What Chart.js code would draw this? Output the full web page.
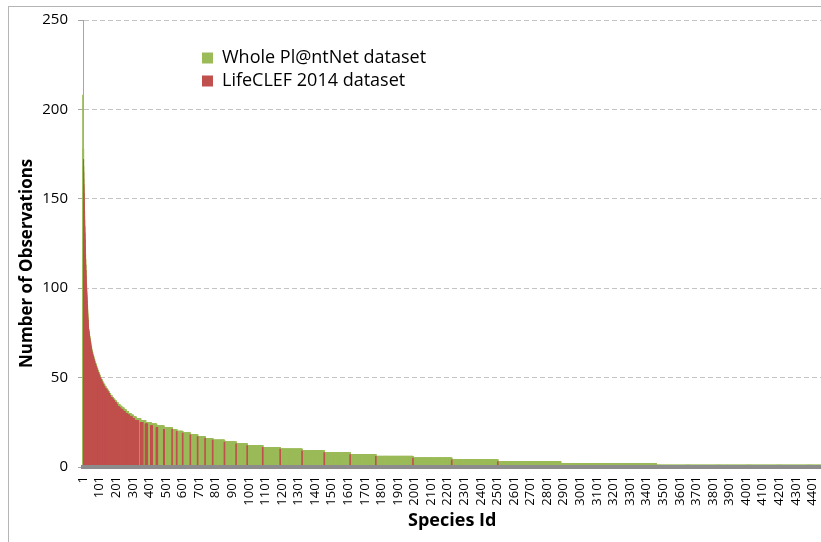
<!DOCTYPE html>
<html>
<head>
<meta charset="utf-8">
<script src="https://cdn.jsdelivr.net/npm/chart.js@4.4.1/dist/chart.umd.min.js"></script>
<style>
html, body { margin: 0; padding: 0; background: #ffffff; overflow: hidden; width: 821px; height: 542px; }
#frame { position: absolute; left: 8px; top: 6px; width: 900px; height: 600px; border-left: 1px solid #b5b5b5; border-top: 1px solid #b5b5b5; }
#c { position: absolute; left: 0; top: 0; }
</style>
</head>
<body>
<div id="frame"></div>
<canvas id="c" width="837" height="542"></canvas>
<script>
// ---- Data ----
const seriesNames = ['Whole Pl@ntNet dataset', 'LifeCLEF 2014 dataset'];
const xTickLabels = ['1','101','201','301','401','501','601','701','801','901','1001','1101','1201','1301','1401','1501','1601','1701','1801','1901','2001','2101','2201','2301','2401','2501','2601','2701','2801','2901','3001','3101','3201','3301','3401','3501','3601','3701','3801','3901','4001','4101','4201','4301','4401'];
const yTickValues = [0, 50, 100, 150, 200, 250];

// Most observed species, one value each (species 1..30)
const wholeHead    = [208,178,168,161,156,151,147,143,138,134,130,126,122,119,116,113,110,107,104,102,100,98,96,94,92,90,88,86,84,82];
const lifeclefHead = [172,172,165,158,153,148,144,140,135,131,127,123,119,116,113,110,107,104,101,99,97,95,93,91,89,87,85,83,82,80];

// Remaining species grouped by observation count (level) : how many species share it
const levels = [79,78,77,76,75,74,73,72,71,70,69,68,67,66,65,64,63,62,61,60,59,58,57,56,55,54,53,52,51,50,49,48,47,46,45,44,43,42,41,40,39,38,37,36,35,34,33,32,31,30,29,28,27,26,25,24,23,22,21,20,19,18,17,16,15,14,13,12,11,10,9,8,7,6,5,4,3,2,1];
const wholeSpeciesPerLevel = [1,1,2,1,2,1,2,1,2,2,1,2,2,2,2, 3,3,3,3,3,3,4,3,4,4, 4,4,4,4,5,5,5, 6,6,7,7,7,7, 7,8,8,9,9, 11,11,12,13,13, 14,15,15,16, 28,30,32,34,44,50, 28,36,46,44,45,46,71,70,67,94,105,132,134,156,155,224,234,278,379,576,998];
const lifeclefSpeciesPerLevel = [1,1,2,1,2,1,2,1,2,2,1,2,2,2,2, 3,3,3,3,3,3,4,3,4,4, 4,4,4,4,5,5,5, 6,6,7,7,7,7, 7,8,8,9,9, 6,6,6,7,7, 7,7,7,7, 14,13,11,9,6,3, 1,1,1,1,1,1,1,1,1,1,1,1,1,1,1,1,1,1,1, 0,0];
const lifeclefValuePerLevel = [78,77,76,75,74,73,72,71,70,69,68,67,66,65,64,63,62,61,60,59,58,57,56,55,54,53,52,51,50,49,48,47,46,45,44,43,42,41,40,39,38,37,36,35,34,33,32,31,30,29,28,27,26,25,24,23,22,21, 21,20,19,18,17,16,15,14,13,12,11,10,9,8,7,6,5,4,3, 0,0];

// ---- Build per-species series from the tables ----
const wholeValues = wholeHead.slice();
const lifeclefValues = lifeclefHead.slice();
levels.forEach((lv, k) => {
  for (let j = 0; j < wholeSpeciesPerLevel[k]; j++) {
    wholeValues.push(lv);
    lifeclefValues.push(j < lifeclefSpeciesPerLevel[k] ? lifeclefValuePerLevel[k] : null);
  }
});
const speciesIds = wholeValues.map((_, i) => String(i + 1));
const tickSet = new Set(xTickLabels);

Chart.defaults.font.family = "'Open Sans', sans-serif";
Chart.defaults.color = '#000000';

const legendPlacer = {
  id: 'legendPlacer',
  afterLayout(chart) {
    const lg = chart.legend;
    lg.left = 197; lg.top = 44; lg.right = 640; lg.bottom = 200;
  }
};

new Chart(document.getElementById('c'), {
  type: 'bar',
  data: {
    labels: speciesIds,
    datasets: [
      { label: seriesNames[0], data: wholeValues, backgroundColor: '#9bbb59', order: 2, grouped: false, barThickness: 1.2, clip: false },
      { label: seriesNames[1], data: lifeclefValues, backgroundColor: '#c0504d', order: 1, grouped: false, barThickness: 1.0 }
    ]
  },
  options: {
    responsive: false,
    animation: false,
    devicePixelRatio: 1,
    events: [],
    layout: { padding: { left: 0, top: 20, right: 0, bottom: 0 } },
    plugins: {
      legend: {
        position: 'chartArea',
        align: 'start',
        labels: {
          font: { size: 18 },
          color: '#000000',
          boxWidth: 11,
          boxHeight: 11,
          padding: 5,
          sort: (a, b) => a.datasetIndex - b.datasetIndex
        }
      },
      tooltip: { enabled: false }
    },
    scales: {
      x: {
        grid: { display: false, drawTicks: false },
        border: { display: true, color: '#8c8c8c', width: 4, z: 1 },
        ticks: {
          autoSkip: false,
          minRotation: 90,
          maxRotation: 90,
          padding: 9,
          color: '#000000',
          font: { size: 13 },
          callback: function (v) { const l = this.getLabelForValue(v); return tickSet.has(l) ? l : null; }
        },
        title: {
          display: true,
          text: 'Species Id',
          color: '#000000',
          font: { size: 18, weight: 'bold' },
          padding: { top: 0, bottom: 10 }
        },
        afterFit: (s) => { s.height = 75; }
      },
      y: {
        min: 0,
        max: 250,
        afterBuildTicks: (s) => { s.ticks = yTickValues.map(v => ({ value: v })); },
        ticks: { padding: 10, color: '#000000', font: { size: 15 } },
        grid: { color: '#c4c4c4', tickColor: '#a6a6a6', tickLength: 5, tickBorderDash: [] },
        border: { color: '#a6a6a6', width: 1, dash: [5, 3] },
        title: {
          display: true,
          text: 'Number of Observations\u00a0\u00a0\u00a0\u00a0\u00a0\u00a0\u00a0\u00a0\u00a0',
          color: '#000000',
          font: { size: 17, weight: 'bold' },
          padding: { top: 17, bottom: 0 }
        },
        afterFit: (s) => { s.width = 83; }
      }
    }
  },
  plugins: [legendPlacer]
});
</script>
</body>
</html>
